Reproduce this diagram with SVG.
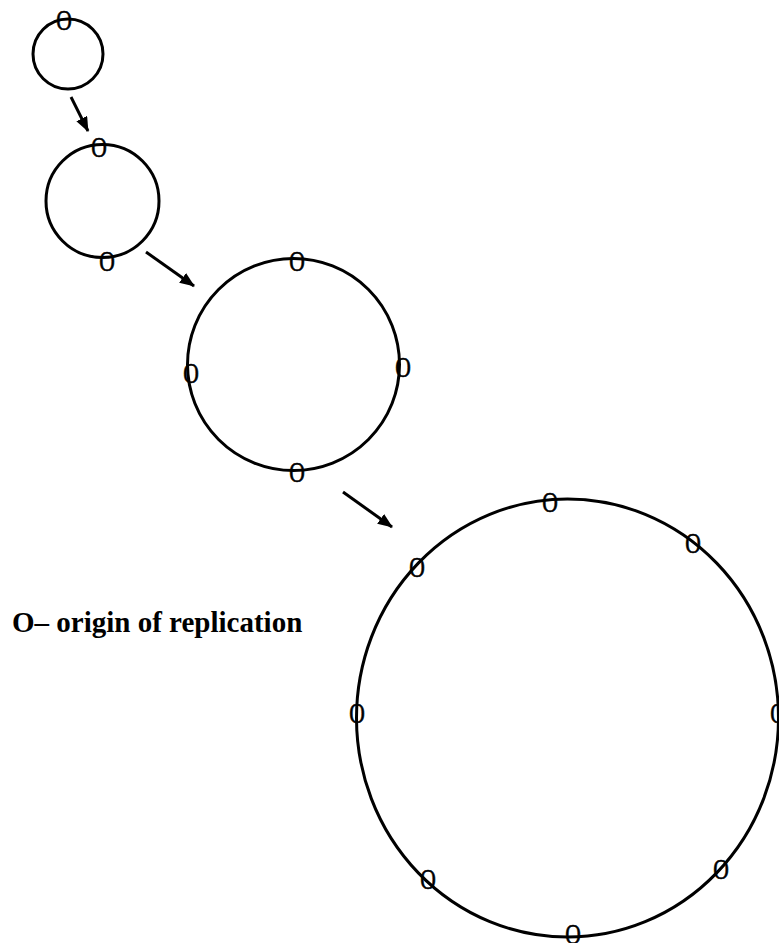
<svg xmlns="http://www.w3.org/2000/svg" width="779" height="943" viewBox="0 0 779 943">
<style>
.ring{fill:none;stroke:#000;stroke-width:3}
.ori{font-family:"Liberation Serif","Times New Roman",serif;font-size:30px;fill:#000;stroke:#000;stroke-width:0.7;text-anchor:middle}
.conn{stroke:#000;stroke-width:3;fill:none}
.lbl{font-family:"Liberation Serif","Times New Roman",serif;font-size:29px;font-weight:bold;fill:#000}
</style>
<defs>
<marker id="ah" markerUnits="userSpaceOnUse" markerWidth="16" markerHeight="14" refX="14" refY="6" orient="auto">
<polygon points="0,0 15,6 0,12" fill="#000"/>
</marker>
</defs>
<rect width="779" height="943" fill="#fff"/>
<g id="connectors">
<line class="conn" x1="71" y1="97" x2="88" y2="131" marker-end="url(#ah)"/>
<line class="conn" x1="146" y1="252" x2="194" y2="286" marker-end="url(#ah)"/>
<line class="conn" x1="343" y1="492" x2="392" y2="527" marker-end="url(#ah)"/>
</g>
<g id="circle1">
<circle class="ring" cx="68" cy="54" r="35"/>
<text class="ori" transform="translate(64,20) scale(0.72,1)" y="10">O</text>
</g>
<g id="circle2">
<circle class="ring" cx="102.5" cy="201" r="56.5"/>
<text class="ori" transform="translate(99,147) scale(0.72,1)" y="10">O</text>
<text class="ori" transform="translate(107,261) scale(0.72,1)" y="10">O</text>
</g>
<g id="circle3">
<circle class="ring" cx="293.5" cy="364.5" r="106"/>
<text class="ori" transform="translate(297,261) scale(0.72,1)" y="10">O</text>
<text class="ori" transform="translate(191,373) scale(0.72,1)" y="10">O</text>
<text class="ori" transform="translate(403,367) scale(0.72,1)" y="10">O</text>
<text class="ori" transform="translate(297,472) scale(0.72,1)" y="10">O</text>
</g>
<g id="circle4">
<ellipse class="ring" cx="567.5" cy="718" rx="211" ry="219"/>
<text class="ori" transform="translate(550,502) scale(0.72,1)" y="10">O</text>
<text class="ori" transform="translate(693,543) scale(0.72,1)" y="10">O</text>
<text class="ori" transform="translate(417,567) scale(0.72,1)" y="10">O</text>
<text class="ori" transform="translate(357,713) scale(0.72,1)" y="10">O</text>
<text class="ori" transform="translate(778,713) scale(0.72,1)" y="10">O</text>
<text class="ori" transform="translate(428,879) scale(0.72,1)" y="10">O</text>
<text class="ori" transform="translate(721,869) scale(0.72,1)" y="10">O</text>
<text class="ori" transform="translate(573,934) scale(0.72,1)" y="10">O</text>
</g>
<g id="legend">
<text class="lbl" x="12" y="632">O– origin of replication</text>
</g>
</svg>
